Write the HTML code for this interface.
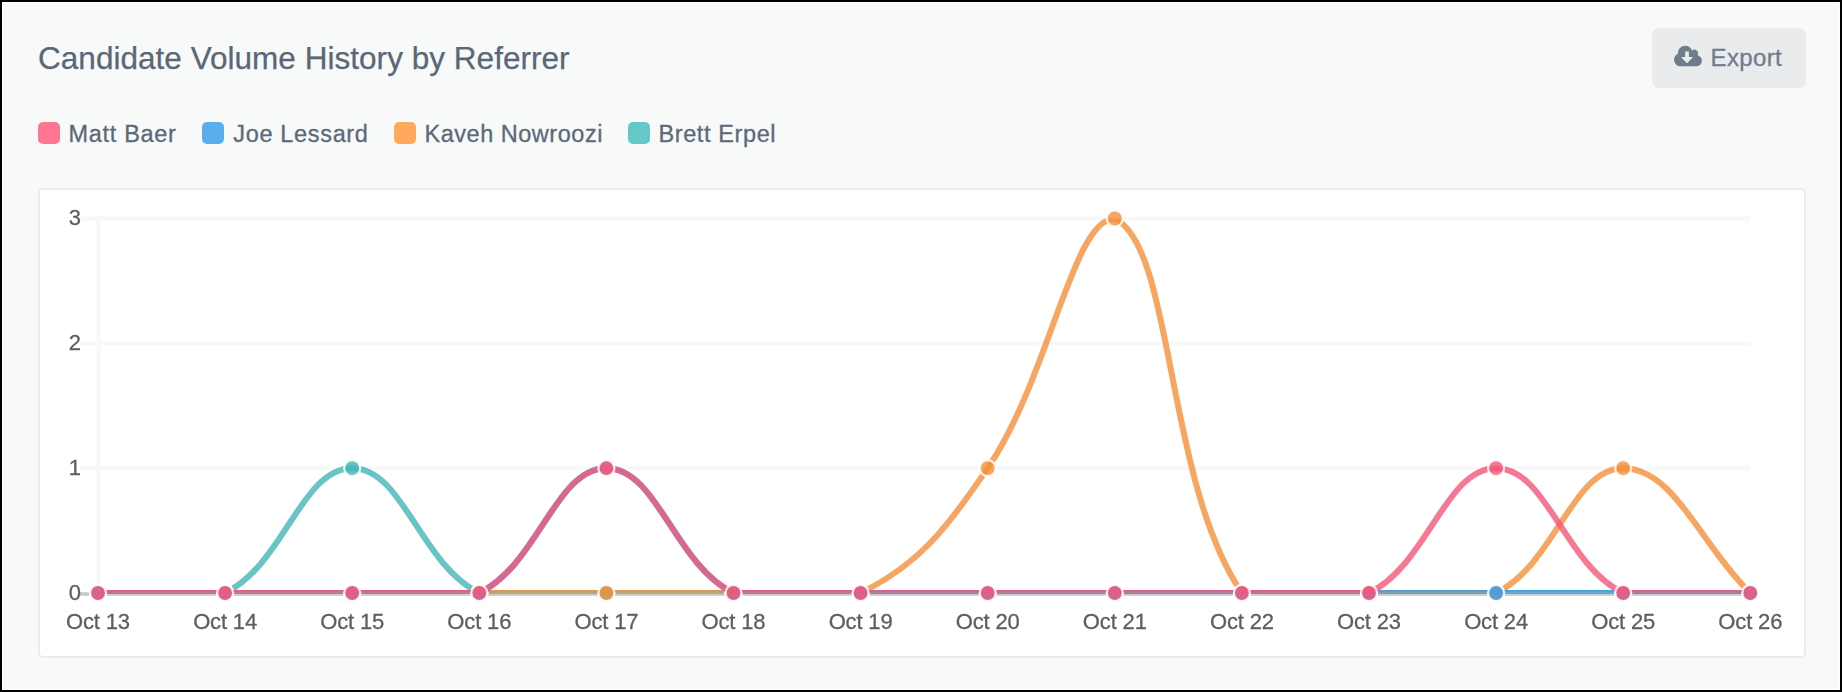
<!DOCTYPE html>
<html lang="en">
<head>
<meta charset="utf-8">
<title>Candidate Volume History by Referrer</title>
<style>
html,body{margin:0;padding:0;}
body{width:1842px;height:692px;overflow:hidden;background:#000;font-family:"Liberation Sans",sans-serif;position:relative;}
.frame{position:absolute;left:2px;top:2px;width:1838px;height:688px;background:#fff;}
.page{position:absolute;left:3px;top:3px;width:1836px;height:686px;background:#f8f9f9;}
.title{position:absolute;left:38px;top:39px;font-size:31.5px;line-height:38px;color:#5a6776;white-space:nowrap;letter-spacing:0.03px;-webkit-text-stroke:0.25px #5a6776;}
.btn{position:absolute;left:1652px;top:28px;width:154px;height:60px;border-radius:7px;background:#e9ebed;}
.btn span{position:absolute;left:58.5px;top:14.5px;font-size:24px;line-height:30px;color:#6f7c8b;white-space:nowrap;letter-spacing:0.38px;-webkit-text-stroke:0.3px #6f7c8b;}
.btn svg{position:absolute;left:21.9px;top:16.04px;}
.lg{position:absolute;top:118px;height:30px;font-size:23.5px;line-height:30px;color:#5b6978;white-space:nowrap;-webkit-text-stroke:0.3px #5b6978;}
.lg i{position:absolute;left:0;top:4px;width:22px;height:22px;border-radius:5px;display:block;}
.lg b{position:absolute;left:30.5px;top:1px;font-weight:normal;}
.card{position:absolute;left:38px;top:188px;width:1764px;height:466px;background:#fff;border:2px solid #eaecef;border-radius:5px;}
svg.chart{position:absolute;left:0;top:0;filter:blur(0.55px);}
.xl{letter-spacing:-0.15px;}
.tk{font-family:"Liberation Sans",sans-serif;font-size:22px;fill:#5e5e5e;stroke:#5e5e5e;stroke-width:0.3px;}
</style>
</head>
<body>
<div class="frame"></div>
<div class="page"></div>
<div class="title">Candidate Volume History by Referrer</div>
<div class="btn">
<svg width="27.9" height="26.04" viewBox="0 0 1920 1792"><path fill="#6f7c8b" fill-rule="evenodd" d="M1280 928q0-14-9-23t-23-9h-224v-352q0-13-9.500-22.500t-22.500-9.500h-192q-13 0-22.500 9.500t-9.500 22.500v352h-224q-13 0-22.500 9.500t-9.500 22.500q0 14 9 23l352 352q9 9 23 9t23-9l351-351q10-12 10-24zm640 224q0 159-112.500 271.500t-271.500 112.500h-1088q-185 0-316.500-131.500t-131.500-316.500q0-130 70-240t188-165q-2-30-2-43 0-212 150-362t362-150q156 0 285.500 87t188.500 231q71-62 166-62 106 0 181 75t75 181q0 76-41 138 130 31 213.500 135.500t83.500 238.500z"/></svg>
<span>Export</span>
</div>
<div class="lg" style="left:38px"><i style="background:#ff7693"></i><b style="letter-spacing:.68px">Matt Baer</b></div>
<div class="lg" style="left:202px"><i style="background:#5aaeee"></i><b style="letter-spacing:.66px;margin-left:.8px">Joe Lessard</b></div>
<div class="lg" style="left:394px"><i style="background:#ffa95c"></i><b style="letter-spacing:.52px">Kaveh Nowroozi</b></div>
<div class="lg" style="left:628px"><i style="background:#66c7c7"></i><b style="letter-spacing:.6px">Brett Erpel</b></div>
<div class="card"></div>
<svg class="chart" width="1842" height="692" viewBox="0 0 1842 692">
<defs><clipPath id="cA"><rect x="98.0" y="218.5" width="1652.3" height="373.9"/></clipPath><clipPath id="cB"><rect x="98.0" y="592.4" width="1652.3" height="1.6"/></clipPath></defs>
<line x1="80" y1="468.2" x2="1750.3" y2="468.2" stroke="#f8f8f8" stroke-width="4"/>
<line x1="80" y1="343.3" x2="1750.3" y2="343.3" stroke="#f8f8f8" stroke-width="4"/>
<line x1="80" y1="218.5" x2="1750.3" y2="218.5" stroke="#f8f8f8" stroke-width="4"/>
<line x1="98.5" y1="216.5" x2="98.5" y2="595.0" stroke="#f8f8f8" stroke-width="4"/>
<rect x="80" y="592.2" width="1671.3" height="3.6" fill="#c9c9c9"/>
<g>
<path clip-path="url(#cA)" d="M98.00 593.00 C148.84 593.00 182.76 593.00 225.10 593.00 C284.44 563.86 301.36 468.17 352.20 468.17 C403.04 468.17 419.96 563.86 479.30 593.00 C521.64 593.00 555.56 593.00 606.40 593.00 C657.24 593.00 682.66 593.00 733.50 593.00 C784.34 593.00 809.76 593.00 860.60 593.00 C911.44 593.00 936.86 593.00 987.70 593.00 C1038.54 593.00 1063.96 593.00 1114.80 593.00 C1165.64 593.00 1191.06 593.00 1241.90 593.00 C1292.74 593.00 1318.16 593.00 1369.00 593.00 C1419.84 593.00 1445.26 593.00 1496.10 593.00 C1546.94 593.00 1572.36 593.00 1623.20 593.00 C1674.04 593.00 1699.46 593.00 1750.30 593.00" fill="none" stroke="rgba(66,181,182,0.8)" stroke-width="6"/>
<path clip-path="url(#cB)" d="M98.00 593.00 C148.84 593.00 182.76 593.00 225.10 593.00 C284.44 563.86 301.36 468.17 352.20 468.17 C403.04 468.17 419.96 563.86 479.30 593.00 C521.64 593.00 555.56 593.00 606.40 593.00 C657.24 593.00 682.66 593.00 733.50 593.00 C784.34 593.00 809.76 593.00 860.60 593.00 C911.44 593.00 936.86 593.00 987.70 593.00 C1038.54 593.00 1063.96 593.00 1114.80 593.00 C1165.64 593.00 1191.06 593.00 1241.90 593.00 C1292.74 593.00 1318.16 593.00 1369.00 593.00 C1419.84 593.00 1445.26 593.00 1496.10 593.00 C1546.94 593.00 1572.36 593.00 1623.20 593.00 C1674.04 593.00 1699.46 593.00 1750.30 593.00" fill="none" stroke="rgba(66,181,182,0.8)" stroke-width="6" opacity="0.7"/>
<circle cx="98.00" cy="593.00" r="8.0" fill="rgba(66,181,182,0.8)" stroke="rgba(255,255,255,0.85)" stroke-width="2.2"/>
<circle cx="225.10" cy="593.00" r="8.0" fill="rgba(66,181,182,0.8)" stroke="rgba(255,255,255,0.85)" stroke-width="2.2"/>
<circle cx="352.20" cy="468.17" r="8.0" fill="rgba(66,181,182,0.8)" stroke="rgba(255,255,255,0.85)" stroke-width="2.2"/>
<circle cx="479.30" cy="593.00" r="8.0" fill="rgba(66,181,182,0.8)" stroke="rgba(255,255,255,0.85)" stroke-width="2.2"/>
<circle cx="606.40" cy="593.00" r="8.0" fill="rgba(66,181,182,0.8)" stroke="rgba(255,255,255,0.85)" stroke-width="2.2"/>
<circle cx="733.50" cy="593.00" r="8.0" fill="rgba(66,181,182,0.8)" stroke="rgba(255,255,255,0.85)" stroke-width="2.2"/>
<circle cx="860.60" cy="593.00" r="8.0" fill="rgba(66,181,182,0.8)" stroke="rgba(255,255,255,0.85)" stroke-width="2.2"/>
<circle cx="987.70" cy="593.00" r="8.0" fill="rgba(66,181,182,0.8)" stroke="rgba(255,255,255,0.85)" stroke-width="2.2"/>
<circle cx="1114.80" cy="593.00" r="8.0" fill="rgba(66,181,182,0.8)" stroke="rgba(255,255,255,0.85)" stroke-width="2.2"/>
<circle cx="1241.90" cy="593.00" r="8.0" fill="rgba(66,181,182,0.8)" stroke="rgba(255,255,255,0.85)" stroke-width="2.2"/>
<circle cx="1369.00" cy="593.00" r="8.0" fill="rgba(66,181,182,0.8)" stroke="rgba(255,255,255,0.85)" stroke-width="2.2"/>
<circle cx="1496.10" cy="593.00" r="8.0" fill="rgba(66,181,182,0.8)" stroke="rgba(255,255,255,0.85)" stroke-width="2.2"/>
<circle cx="1623.20" cy="593.00" r="8.0" fill="rgba(66,181,182,0.8)" stroke="rgba(255,255,255,0.85)" stroke-width="2.2"/>
<circle cx="1750.30" cy="593.00" r="8.0" fill="rgba(66,181,182,0.8)" stroke="rgba(255,255,255,0.85)" stroke-width="2.2"/>
</g>
<g>
<path clip-path="url(#cA)" d="M98.00 593.00 C148.84 593.00 174.26 593.00 225.10 593.00 C275.94 593.00 301.36 593.00 352.20 593.00 C403.04 593.00 428.46 593.00 479.30 593.00 C530.14 593.00 555.56 593.00 606.40 593.00 C657.24 593.00 682.66 593.00 733.50 593.00 C784.34 593.00 818.26 593.00 860.60 593.00 C919.94 563.86 948.18 526.40 987.70 468.17 C1049.86 376.60 1072.64 218.50 1114.80 218.50 C1174.32 247.73 1164.95 479.63 1241.90 593.00 C1266.63 593.00 1318.16 593.00 1369.00 593.00 C1419.84 593.00 1453.76 593.00 1496.10 593.00 C1555.44 563.86 1572.36 468.17 1623.20 468.17 C1674.04 468.17 1699.46 543.07 1750.30 593.00" fill="none" stroke="rgba(244,144,56,0.8)" stroke-width="6"/>
<path clip-path="url(#cB)" d="M98.00 593.00 C148.84 593.00 174.26 593.00 225.10 593.00 C275.94 593.00 301.36 593.00 352.20 593.00 C403.04 593.00 428.46 593.00 479.30 593.00 C530.14 593.00 555.56 593.00 606.40 593.00 C657.24 593.00 682.66 593.00 733.50 593.00 C784.34 593.00 818.26 593.00 860.60 593.00 C919.94 563.86 948.18 526.40 987.70 468.17 C1049.86 376.60 1072.64 218.50 1114.80 218.50 C1174.32 247.73 1164.95 479.63 1241.90 593.00 C1266.63 593.00 1318.16 593.00 1369.00 593.00 C1419.84 593.00 1453.76 593.00 1496.10 593.00 C1555.44 563.86 1572.36 468.17 1623.20 468.17 C1674.04 468.17 1699.46 543.07 1750.30 593.00" fill="none" stroke="rgba(244,144,56,0.8)" stroke-width="6" opacity="0.7"/>
<circle cx="98.00" cy="593.00" r="8.0" fill="rgba(244,144,56,0.8)" stroke="rgba(255,255,255,0.85)" stroke-width="2.2"/>
<circle cx="225.10" cy="593.00" r="8.0" fill="rgba(244,144,56,0.8)" stroke="rgba(255,255,255,0.85)" stroke-width="2.2"/>
<circle cx="352.20" cy="593.00" r="8.0" fill="rgba(244,144,56,0.8)" stroke="rgba(255,255,255,0.85)" stroke-width="2.2"/>
<circle cx="479.30" cy="593.00" r="8.0" fill="rgba(244,144,56,0.8)" stroke="rgba(255,255,255,0.85)" stroke-width="2.2"/>
<circle cx="606.40" cy="593.00" r="8.0" fill="rgba(244,144,56,0.8)" stroke="rgba(255,255,255,0.85)" stroke-width="2.2"/>
<circle cx="733.50" cy="593.00" r="8.0" fill="rgba(244,144,56,0.8)" stroke="rgba(255,255,255,0.85)" stroke-width="2.2"/>
<circle cx="860.60" cy="593.00" r="8.0" fill="rgba(244,144,56,0.8)" stroke="rgba(255,255,255,0.85)" stroke-width="2.2"/>
<circle cx="987.70" cy="468.17" r="8.0" fill="rgba(244,144,56,0.8)" stroke="rgba(255,255,255,0.85)" stroke-width="2.2"/>
<circle cx="1114.80" cy="218.50" r="8.0" fill="rgba(244,144,56,0.8)" stroke="rgba(255,255,255,0.85)" stroke-width="2.2"/>
<circle cx="1241.90" cy="593.00" r="8.0" fill="rgba(244,144,56,0.8)" stroke="rgba(255,255,255,0.85)" stroke-width="2.2"/>
<circle cx="1369.00" cy="593.00" r="8.0" fill="rgba(244,144,56,0.8)" stroke="rgba(255,255,255,0.85)" stroke-width="2.2"/>
<circle cx="1496.10" cy="593.00" r="8.0" fill="rgba(244,144,56,0.8)" stroke="rgba(255,255,255,0.85)" stroke-width="2.2"/>
<circle cx="1623.20" cy="468.17" r="8.0" fill="rgba(244,144,56,0.8)" stroke="rgba(255,255,255,0.85)" stroke-width="2.2"/>
<circle cx="1750.30" cy="593.00" r="8.0" fill="rgba(244,144,56,0.8)" stroke="rgba(255,255,255,0.85)" stroke-width="2.2"/>
</g>
<g>
<path clip-path="url(#cA)" d="M98.00 593.00 C148.84 593.00 174.26 593.00 225.10 593.00 C275.94 593.00 301.36 593.00 352.20 593.00 C403.04 593.00 436.96 593.00 479.30 593.00 C538.64 563.86 555.56 468.17 606.40 468.17 C657.24 468.17 674.16 563.86 733.50 593.00 C775.84 593.00 809.76 593.00 860.60 593.00 C911.44 593.00 936.86 593.00 987.70 593.00 C1038.54 593.00 1063.96 593.00 1114.80 593.00 C1165.64 593.00 1191.06 593.00 1241.90 593.00 C1292.74 593.00 1318.16 593.00 1369.00 593.00 C1419.84 593.00 1445.26 593.00 1496.10 593.00 C1546.94 593.00 1572.36 593.00 1623.20 593.00 C1674.04 593.00 1699.46 593.00 1750.30 593.00" fill="none" stroke="rgba(64,157,232,0.8)" stroke-width="6"/>
<path clip-path="url(#cB)" d="M98.00 593.00 C148.84 593.00 174.26 593.00 225.10 593.00 C275.94 593.00 301.36 593.00 352.20 593.00 C403.04 593.00 436.96 593.00 479.30 593.00 C538.64 563.86 555.56 468.17 606.40 468.17 C657.24 468.17 674.16 563.86 733.50 593.00 C775.84 593.00 809.76 593.00 860.60 593.00 C911.44 593.00 936.86 593.00 987.70 593.00 C1038.54 593.00 1063.96 593.00 1114.80 593.00 C1165.64 593.00 1191.06 593.00 1241.90 593.00 C1292.74 593.00 1318.16 593.00 1369.00 593.00 C1419.84 593.00 1445.26 593.00 1496.10 593.00 C1546.94 593.00 1572.36 593.00 1623.20 593.00 C1674.04 593.00 1699.46 593.00 1750.30 593.00" fill="none" stroke="rgba(64,157,232,0.8)" stroke-width="6" opacity="0.7"/>
<circle cx="98.00" cy="593.00" r="8.0" fill="rgba(64,157,232,0.8)" stroke="rgba(255,255,255,0.85)" stroke-width="2.2"/>
<circle cx="225.10" cy="593.00" r="8.0" fill="rgba(64,157,232,0.8)" stroke="rgba(255,255,255,0.85)" stroke-width="2.2"/>
<circle cx="352.20" cy="593.00" r="8.0" fill="rgba(64,157,232,0.8)" stroke="rgba(255,255,255,0.85)" stroke-width="2.2"/>
<circle cx="479.30" cy="593.00" r="8.0" fill="rgba(64,157,232,0.8)" stroke="rgba(255,255,255,0.85)" stroke-width="2.2"/>
<circle cx="606.40" cy="468.17" r="8.0" fill="rgba(64,157,232,0.8)" stroke="rgba(255,255,255,0.85)" stroke-width="2.2"/>
<circle cx="733.50" cy="593.00" r="8.0" fill="rgba(64,157,232,0.8)" stroke="rgba(255,255,255,0.85)" stroke-width="2.2"/>
<circle cx="860.60" cy="593.00" r="8.0" fill="rgba(64,157,232,0.8)" stroke="rgba(255,255,255,0.85)" stroke-width="2.2"/>
<circle cx="987.70" cy="593.00" r="8.0" fill="rgba(64,157,232,0.8)" stroke="rgba(255,255,255,0.85)" stroke-width="2.2"/>
<circle cx="1114.80" cy="593.00" r="8.0" fill="rgba(64,157,232,0.8)" stroke="rgba(255,255,255,0.85)" stroke-width="2.2"/>
<circle cx="1241.90" cy="593.00" r="8.0" fill="rgba(64,157,232,0.8)" stroke="rgba(255,255,255,0.85)" stroke-width="2.2"/>
<circle cx="1369.00" cy="593.00" r="8.0" fill="rgba(64,157,232,0.8)" stroke="rgba(255,255,255,0.85)" stroke-width="2.2"/>
<circle cx="1496.10" cy="593.00" r="8.0" fill="rgba(64,157,232,0.8)" stroke="rgba(255,255,255,0.85)" stroke-width="2.2"/>
<circle cx="1623.20" cy="593.00" r="8.0" fill="rgba(64,157,232,0.8)" stroke="rgba(255,255,255,0.85)" stroke-width="2.2"/>
<circle cx="1750.30" cy="593.00" r="8.0" fill="rgba(64,157,232,0.8)" stroke="rgba(255,255,255,0.85)" stroke-width="2.2"/>
</g>
<g>
<path clip-path="url(#cA)" d="M98.00 593.00 C148.84 593.00 174.26 593.00 225.10 593.00 C275.94 593.00 301.36 593.00 352.20 593.00 C403.04 593.00 436.96 593.00 479.30 593.00 C538.64 563.86 555.56 468.17 606.40 468.17 C657.24 468.17 674.16 563.86 733.50 593.00 C775.84 593.00 809.76 593.00 860.60 593.00 C911.44 593.00 936.86 593.00 987.70 593.00 C1038.54 593.00 1063.96 593.00 1114.80 593.00 C1165.64 593.00 1191.06 593.00 1241.90 593.00 C1292.74 593.00 1326.66 593.00 1369.00 593.00 C1428.34 563.86 1445.26 468.17 1496.10 468.17 C1546.94 468.17 1563.86 563.86 1623.20 593.00 C1665.54 593.00 1699.46 593.00 1750.30 593.00" fill="none" stroke="rgba(245,86,120,0.8)" stroke-width="6"/>
<path clip-path="url(#cB)" d="M98.00 593.00 C148.84 593.00 174.26 593.00 225.10 593.00 C275.94 593.00 301.36 593.00 352.20 593.00 C403.04 593.00 436.96 593.00 479.30 593.00 C538.64 563.86 555.56 468.17 606.40 468.17 C657.24 468.17 674.16 563.86 733.50 593.00 C775.84 593.00 809.76 593.00 860.60 593.00 C911.44 593.00 936.86 593.00 987.70 593.00 C1038.54 593.00 1063.96 593.00 1114.80 593.00 C1165.64 593.00 1191.06 593.00 1241.90 593.00 C1292.74 593.00 1326.66 593.00 1369.00 593.00 C1428.34 563.86 1445.26 468.17 1496.10 468.17 C1546.94 468.17 1563.86 563.86 1623.20 593.00 C1665.54 593.00 1699.46 593.00 1750.30 593.00" fill="none" stroke="rgba(245,86,120,0.8)" stroke-width="6" opacity="0.7"/>
<circle cx="98.00" cy="593.00" r="8.0" fill="rgba(245,86,120,0.8)" stroke="rgba(255,255,255,0.85)" stroke-width="2.2"/>
<circle cx="225.10" cy="593.00" r="8.0" fill="rgba(245,86,120,0.8)" stroke="rgba(255,255,255,0.85)" stroke-width="2.2"/>
<circle cx="352.20" cy="593.00" r="8.0" fill="rgba(245,86,120,0.8)" stroke="rgba(255,255,255,0.85)" stroke-width="2.2"/>
<circle cx="479.30" cy="593.00" r="8.0" fill="rgba(245,86,120,0.8)" stroke="rgba(255,255,255,0.85)" stroke-width="2.2"/>
<circle cx="606.40" cy="468.17" r="8.0" fill="rgba(245,86,120,0.8)" stroke="rgba(255,255,255,0.85)" stroke-width="2.2"/>
<circle cx="733.50" cy="593.00" r="8.0" fill="rgba(245,86,120,0.8)" stroke="rgba(255,255,255,0.85)" stroke-width="2.2"/>
<circle cx="860.60" cy="593.00" r="8.0" fill="rgba(245,86,120,0.8)" stroke="rgba(255,255,255,0.85)" stroke-width="2.2"/>
<circle cx="987.70" cy="593.00" r="8.0" fill="rgba(245,86,120,0.8)" stroke="rgba(255,255,255,0.85)" stroke-width="2.2"/>
<circle cx="1114.80" cy="593.00" r="8.0" fill="rgba(245,86,120,0.8)" stroke="rgba(255,255,255,0.85)" stroke-width="2.2"/>
<circle cx="1241.90" cy="593.00" r="8.0" fill="rgba(245,86,120,0.8)" stroke="rgba(255,255,255,0.85)" stroke-width="2.2"/>
<circle cx="1369.00" cy="593.00" r="8.0" fill="rgba(245,86,120,0.8)" stroke="rgba(255,255,255,0.85)" stroke-width="2.2"/>
<circle cx="1496.10" cy="468.17" r="8.0" fill="rgba(245,86,120,0.8)" stroke="rgba(255,255,255,0.85)" stroke-width="2.2"/>
<circle cx="1623.20" cy="593.00" r="8.0" fill="rgba(245,86,120,0.8)" stroke="rgba(255,255,255,0.85)" stroke-width="2.2"/>
<circle cx="1750.30" cy="593.00" r="8.0" fill="rgba(245,86,120,0.8)" stroke="rgba(255,255,255,0.85)" stroke-width="2.2"/>
</g>
<text x="81" y="599.5" text-anchor="end" class="tk">0</text>
<text x="81" y="474.7" text-anchor="end" class="tk">1</text>
<text x="81" y="349.8" text-anchor="end" class="tk">2</text>
<text x="81" y="225.0" text-anchor="end" class="tk">3</text>
<text x="98.0" y="629" text-anchor="middle" class="tk xl">Oct 13</text>
<text x="225.1" y="629" text-anchor="middle" class="tk xl">Oct 14</text>
<text x="352.2" y="629" text-anchor="middle" class="tk xl">Oct 15</text>
<text x="479.3" y="629" text-anchor="middle" class="tk xl">Oct 16</text>
<text x="606.4" y="629" text-anchor="middle" class="tk xl">Oct 17</text>
<text x="733.5" y="629" text-anchor="middle" class="tk xl">Oct 18</text>
<text x="860.6" y="629" text-anchor="middle" class="tk xl">Oct 19</text>
<text x="987.7" y="629" text-anchor="middle" class="tk xl">Oct 20</text>
<text x="1114.8" y="629" text-anchor="middle" class="tk xl">Oct 21</text>
<text x="1241.9" y="629" text-anchor="middle" class="tk xl">Oct 22</text>
<text x="1369.0" y="629" text-anchor="middle" class="tk xl">Oct 23</text>
<text x="1496.1" y="629" text-anchor="middle" class="tk xl">Oct 24</text>
<text x="1623.2" y="629" text-anchor="middle" class="tk xl">Oct 25</text>
<text x="1750.3" y="629" text-anchor="middle" class="tk xl">Oct 26</text>
</svg>
</body>
</html>
